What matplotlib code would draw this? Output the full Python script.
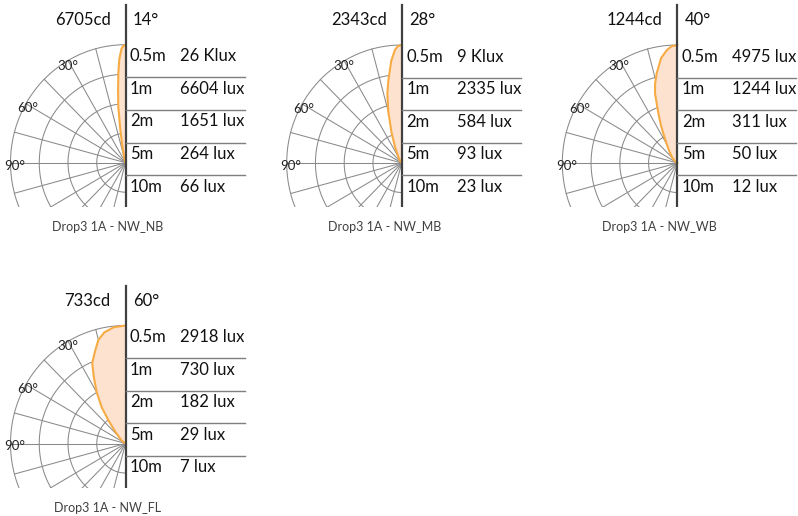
import numpy as np
import matplotlib
matplotlib.use("Agg")
import matplotlib.pyplot as plt

plt.rcParams['font.family'] = ['Lato', 'DejaVu Sans']

# ---- data ----
names = ['Drop3 1A - NW_NB', 'Drop3 1A - NW_MB', 'Drop3 1A - NW_WB', 'Drop3 1A - NW_FL']
peak_cd = ['6705cd', '2343cd', '1244cd', '733cd']
beam = ['14°', '28°', '40°', '60°']
distances = ['0.5m', '1m', '2m', '5m', '10m']
lux_nb = ['26 Klux', '6604 lux', '1651 lux', '264 lux', '66 lux']
lux_mb = ['9 Klux', '2335 lux', '584 lux', '93 lux', '23 lux']
lux_wb = ['4975 lux', '1244 lux', '311 lux', '50 lux', '12 lux']
lux_fl = ['2918 lux', '730 lux', '182 lux', '29 lux', '7 lux']

# relative intensity (1 = peak) vs angle from the axis, in degrees
ang_nb = [0, 1, 2, 3.5, 4.7, 6, 7.5, 9, 10, 12, 15, 20, 90]
int_nb = [1, 0.99, 0.97, 0.88, 0.76, 0.62, 0.48, 0.3, 0.19, 0.1, 0.04, 0.01, 0]
ang_mb = [0, 2, 3.5, 6, 9.4, 12, 15, 19, 23, 29, 40, 90]
int_mb = [1, 0.99, 0.96, 0.87, 0.71, 0.6, 0.45, 0.27, 0.15, 0.06, 0.02, 0]
ang_wb = [0, 3, 5.5, 9, 13.3, 16, 18.2, 21.4, 24, 25.8, 30, 35, 42.5, 60, 90]
int_wb = [1, 0.99, 0.96, 0.9, 0.78, 0.7, 0.62, 0.45, 0.35, 0.28, 0.18, 0.12, 0.07, 0.02, 0]
ang_fl = [0, 6, 11, 15, 19, 23, 26, 30, 34, 37, 42, 54, 90]
int_fl = [1, 0.99, 0.96, 0.91, 0.82, 0.74, 0.63, 0.5, 0.37, 0.25, 0.13, 0.04, 0]

lux = [lux_nb, lux_mb, lux_wb, lux_fl]
angles = [ang_nb, ang_mb, ang_wb, ang_fl]
intens = [int_nb, int_mb, int_wb, int_fl]

ring_r = [0.25, 0.5, 0.75, 1.0]
ray_deg = np.arange(15, 180, 15)
label_deg = [30, 60, 90]

# ---- layout (pixels) ----
W, H = 798, 516
centers = [(125.5, 162.7), (401.7, 163.0), (677.3, 163.0), (125.5, 443.5)]
SX, SY = 115.0, 118.0          # px per unit radius (x, y)
left_px, right_px = 125.5, 124.5
top_px, bot_px = 162.7, 44.0
row_h = 32.6 / SY

txt_col = '#111111'
grid_col = '#8a8a8a'

fig = plt.figure(figsize=(W / 100, H / 100), dpi=100)

for i in range(4):
    cx, cy = centers[i]
    ax = fig.add_axes([(cx - left_px) / W, (H - cy - bot_px) / H,
                       (left_px + right_px) / W, (top_px + bot_px) / H])
    ax.set_xlim(-left_px / SX, right_px / SX)
    ax.set_ylim(-bot_px / SY, top_px / SY)
    ax.axis('off')

    # polar grid
    t = np.linspace(0, np.pi, 300)
    for r in ring_r:
        ax.plot(-r * np.sin(t), r * np.cos(t), color=grid_col, lw=0.75, zorder=1)
    for d in ray_deg:
        a = np.radians(d)
        ax.plot([0, -np.sin(a)], [0, np.cos(a)], color=grid_col, lw=0.75, zorder=1)
    for d in label_deg:
        a = np.radians(d + 1.5)
        ax.text(-0.965 * np.sin(a), 0.965 * np.cos(a), f'{d}°', fontsize=9.5,
                color='#222222', ha='center', va='center', zorder=4)

    # intensity curve
    a = np.radians(angles[i])
    I = np.array(intens[i])
    xs = np.concatenate([[0], -I * np.sin(a), [0]])
    ys = np.concatenate([[1], I * np.cos(a), [0]])
    ax.fill(xs, ys, color='#fde3cf', lw=0, zorder=2)
    ax.plot(-I * np.sin(a), I * np.cos(a), color='#f7ab45', lw=1.5, zorder=3)

    # table
    ax.plot([0, 0], [-bot_px / SY, (top_px - 5) / SY], color='#404040', lw=1.6, zorder=5)
    for k in range(1, 6):
        yk = 1 - k * row_h
        ax.plot([0, 119 / SX], [yk, yk], color='#7f7f7f', lw=1.0, zorder=5)
    for k in range(5):
        yb = 1 - k * row_h - 16.5 / SY
        ax.text(4.5 / SX, yb, distances[k], fontsize=12, color=txt_col,
                ha='left', va='baseline')
        ax.text(55 / SX, yb, lux[i][k], fontsize=12, color=txt_col,
                ha='left', va='baseline')
    yh = (top_px - 25) / SY
    ax.text(-15 / SX, yh, peak_cd[i], fontsize=12, color=txt_col,
            ha='right', va='baseline')
    ax.text(7.5 / SX, yh, beam[i], fontsize=12, color=txt_col,
            ha='left', va='baseline')

    # caption
    ax.text(-17.5 / SX, -(231 - top_px) / SY, names[i], fontsize=9,
            color='#404040', ha='center', va='baseline')

fig.savefig('out.png', dpi=100, facecolor='white')
